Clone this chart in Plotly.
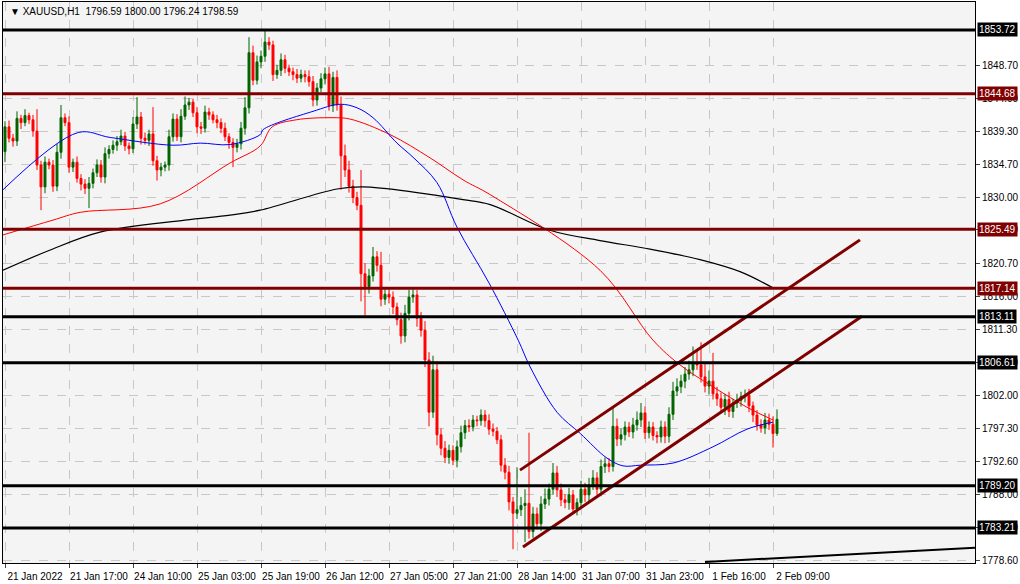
import plotly.graph_objects as go

first_open = 1836.5
closes = [1840.0,1838.4,1838.0,1841.2,1840.6,1841.6,1841.0,1839.4,1834.6,1831.5,
1835.0,1834.6,1831.6,1836.4,1841.3,1840.6,1834.3,1835.0,1832.7,1831.9,
1831.3,1832.0,1833.5,1834.6,1832.9,1836.2,1836.8,1837.4,1837.9,1838.7,
1837.3,1836.9,1840.4,1841.4,1838.4,1838.1,1839.0,1835.2,1833.9,1834.3,
1834.6,1838.6,1841.1,1838.6,1841.5,1843.1,1843.5,1842.0,1840.0,1839.8,
1842.1,1841.7,1841.0,1840.6,1839.8,1838.6,1837.8,1837.1,1837.6,1839.8,
1842.7,1850.5,1846.6,1849.2,1850.0,1852.0,1851.6,1847.4,1848.0,1849.5,
1848.3,1847.8,1847.4,1846.9,1847.4,1847.1,1846.4,1843.8,1845.5,1846.8,
1847.5,1843.0,1847.0,1843.1,1835.9,1833.9,1831.6,1830.0,1828.9,1819.2,
1817.4,1818.9,1821.6,1820.4,1815.6,1816.3,1815.9,1814.5,1812.7,1810.4,
1813.6,1815.9,1816.2,1812.9,1811.2,1807.0,1799.6,1805.6,1796.4,1794.5,
1793.2,1794.2,1792.8,1794.7,1796.7,1797.7,1797.5,1798.5,1798.4,1799.2,
1798.4,1797.2,1796.9,1795.7,1792.1,1791.1,1786.9,1785.3,1785.8,1786.4,
1786.7,1782.7,1785.2,1783.8,1786.6,1787.3,1788.7,1791.0,1788.6,1787.2,
1786.8,1787.9,1785.9,1786.8,1788.7,1787.9,1789.3,1790.3,1788.7,1791.9,
1792.3,1791.9,1797.6,1795.8,1796.4,1797.5,1796.8,1797.8,1798.5,1799.5,
1796.7,1797.5,1796.3,1796.1,1797.5,1796.2,1799.3,1802.6,1803.2,1804.0,
1805.0,1805.6,1806.5,1806.3,1804.6,1803.3,1804.0,1802.2,1801.5,1800.3,
1801.4,1799.7,1800.9,1801.3,1801.8,1802.0,1800.5,1799.2,1797.8,1797.4,
1798.5,1797.9,1796.59,1798.59]
up_wick = [0.8,0.9,0.6,1.0,0.5,0.9,0.4,0.7,3.1,0.6,
0.8,0.5,0.7,1.2,1.8,0.6,0.9,0.5,0.8,0.6,
0.7,0.9,0.6,0.8,0.7,0.9,0.6,0.7,0.8,0.9,
0.6,0.5,1.0,2.8,0.7,0.8,0.6,3.8,0.7,0.6,
0.5,1.0,0.8,0.7,1.0,1.2,0.6,0.5,0.8,0.7,
0.9,0.6,0.5,0.7,0.6,0.8,0.5,0.6,0.7,0.9,
1.5,2.2,1.0,0.9,0.8,1.8,0.7,0.6,0.8,0.9,
0.7,0.5,0.6,0.8,0.7,0.6,0.9,0.8,0.7,0.8,
0.9,1.0,0.8,1.0,1.2,1.6,1.3,0.9,0.8,5.0,
1.5,1.0,1.4,0.8,1.9,0.9,0.7,0.8,0.6,1.0,
1.2,1.0,0.8,0.7,0.9,1.3,1.1,2.0,1.2,0.9,
1.0,0.8,0.7,0.9,1.0,0.8,0.9,0.7,0.6,0.8,
0.7,0.9,0.8,0.6,0.7,1.0,0.9,0.7,6.0,1.2,
2.0,10.0,1.0,0.9,1.1,1.5,0.8,1.4,1.0,0.9,
0.8,1.0,0.7,0.6,1.2,0.9,1.0,1.1,0.8,1.0,
0.9,0.8,2.6,1.1,0.9,0.8,0.7,1.0,1.2,1.4,
0.9,0.8,0.7,0.6,0.9,0.8,1.0,1.3,1.2,0.9,
1.0,1.3,2.4,1.8,3.2,2.0,1.5,4.0,1.0,0.9,
0.8,1.1,0.6,0.9,0.7,0.8,0.9,0.6,0.7,0.8,
1.0,0.9,1.1,1.41]
down_wick = [1.5,0.6,0.8,0.7,0.9,0.5,0.6,0.8,0.7,3.3,
0.9,0.6,0.8,0.7,0.9,0.5,0.8,0.7,0.6,0.9,
0.8,2.8,0.7,0.6,0.8,0.9,0.7,0.6,0.8,0.5,
0.7,0.8,0.6,0.7,0.9,0.6,0.8,0.7,1.5,0.9,
0.6,0.8,0.7,0.6,0.8,0.5,0.7,0.6,0.9,0.8,
0.6,0.7,0.5,0.8,0.7,0.6,0.9,2.8,0.7,0.8,
0.9,0.8,0.7,0.6,0.9,0.8,0.7,0.9,0.6,0.8,
0.7,0.6,0.8,0.7,0.6,0.8,0.7,0.9,0.8,0.6,
0.8,0.7,0.9,0.8,4.8,1.0,0.9,0.8,0.7,3.9,
4.1,1.0,0.8,0.9,1.0,0.8,0.9,1.0,0.8,1.1,
0.9,1.0,0.8,1.2,0.9,1.0,2.0,0.8,1.5,1.0,
0.8,0.9,0.7,1.0,0.8,0.9,0.7,0.6,0.8,0.7,
0.9,0.8,0.7,0.6,0.9,1.0,1.2,5.1,0.8,0.9,
5.2,1.0,0.9,0.8,1.0,0.7,0.9,0.8,1.0,0.9,
0.8,1.0,0.7,0.9,0.8,1.0,0.9,0.7,0.8,1.0,
0.9,0.8,0.7,1.0,0.9,0.8,0.7,0.9,0.8,1.0,
0.9,0.8,0.7,0.9,0.8,1.0,0.9,0.8,0.7,0.9,
1.0,0.8,0.9,0.7,0.8,0.9,1.2,0.8,1.0,0.9,
1.1,0.8,0.9,0.7,0.9,0.8,0.9,1.0,0.8,0.7,
0.9,0.8,2.0,0.35]

ma_blue_x = [-0.5,18.3,26.3,42,48.8,56.3,63.8,64.5,77,83.8,88,92,98,102,108,113,121,128.3,131.3,138,143.8,150.5,154.5,158.8,167,177,185.5,192]
ma_blue_y = [1831.1,1839.2,1838.5,1837.4,1837.7,1837.5,1838.9,1839.6,1842.2,1843.2,1842.7,1841.3,1837.7,1835.7,1832.1,1825.8,1817.9,1809.8,1806.0,1799.6,1796.6,1793.1,1792.0,1792.1,1792.4,1794.7,1797.2,1798.2]
ma_red_x = [-0.5,12,18.8,38.8,56.3,63.8,66.8,72.8,82,86.3,96.3,106.3,114.5,121.3,148.75,162,168.75,177,185.5,192]
ma_red_y = [1824.7,1826.8,1827.9,1829.1,1834.9,1837.3,1840.0,1841.0,1841.3,1841.1,1838.9,1835.6,1832.5,1830.4,1819.7,1809.8,1806.3,1803.2,1800.3,1798.5]
ma_black_x = [-0.5,11,23.75,45,56.3,63.75,83,89.5,103,114.5,121.3,136,148.75,161.25,173.75,183.75,192]
ma_black_y = [1819.7,1822.5,1825.1,1826.8,1827.5,1828.2,1831.2,1831.5,1830.7,1829.7,1829.0,1825.4,1823.9,1822.7,1821.2,1819.5,1817.2]

channel_up_x = [128.75, 213.75]; channel_up_y = [1791.4, 1824.0]
channel_lo_x = [129.5, 214.25]; channel_lo_y = [1780.5, 1813.2]
bottom_x = [175, 242.5]; bottom_y = [1778.4, 1780.4]

black_levels = [1853.72, 1813.11, 1806.61, 1789.20, 1783.21]
red_levels = [1844.68, 1825.49, 1817.14]

tick_idx = [0,16,32,48,64,80,96,112,128,144,160,176,192]
tick_text = ["21 Jan 2022","21 Jan 17:00","24 Jan 10:00","25 Jan 03:00","25 Jan 19:00","26 Jan 12:00",
             "27 Jan 05:00","27 Jan 21:00","28 Jan 14:00","31 Jan 07:00","31 Jan 23:00","1 Feb 16:00","2 Feb 09:00"]
y_ticks = [1848.70,1844.00,1839.30,1834.70,1830.00,1825.40,1820.70,1816.00,1811.30,1806.60,1802.00,1797.30,1792.60,1788.00,1783.30,1778.60]

opens = [first_open] + closes[:-1]
opens[-1] = 1796.59
idx = list(range(len(closes)))
highs = [max(o, c) + u for o, c, u in zip(opens, closes, up_wick)]
lows = [min(o, c) - d for o, c, d in zip(opens, closes, down_wick)]

FONT = "Liberation Sans"
fig = go.Figure()
fig.add_trace(go.Candlestick(x=idx, open=opens, high=highs, low=lows, close=closes,
    increasing=dict(line=dict(color="#006400", width=1), fillcolor="#006400"),
    decreasing=dict(line=dict(color="#ff0000", width=1), fillcolor="#ff0000"),
    whiskerwidth=0, showlegend=False, hoverinfo="skip"))
fig.add_trace(go.Scatter(x=ma_black_x, y=ma_black_y, mode="lines", line=dict(color="black", width=1.2, shape="spline"), showlegend=False))
fig.add_trace(go.Scatter(x=ma_red_x, y=ma_red_y, mode="lines", line=dict(color="#ff0000", width=1, shape="spline"), showlegend=False))
fig.add_trace(go.Scatter(x=ma_blue_x, y=ma_blue_y, mode="lines", line=dict(color="#0000ff", width=1, shape="spline"), showlegend=False))
for xs, ys in [(channel_up_x, channel_up_y), (channel_lo_x, channel_lo_y)]:
    fig.add_trace(go.Scatter(x=xs, y=ys, mode="lines", line=dict(color="#800000", width=3), showlegend=False))
fig.add_trace(go.Scatter(x=bottom_x, y=bottom_y, mode="lines", line=dict(color="black", width=2), showlegend=False))

shapes = []
annots = []
for lv, col in [(v, "black") for v in black_levels] + [(v, "#800000") for v in red_levels]:
    shapes.append(dict(type="line", xref="paper", x0=0, x1=1, yref="y", y0=lv, y1=lv, line=dict(color=col, width=3)))
    annots.append(dict(xref="paper", x=1.002, y=lv, yref="y", text=f"{lv:.2f}", showarrow=False, xanchor="left",
                       bgcolor=col, font=dict(color="white", size=10, family=FONT), borderpad=1))
annots.append(dict(xref="paper", yref="paper", x=0.005, y=0.997, xanchor="left", yanchor="top", showarrow=False,
                   text="▼ XAUUSD,H1  1796.59 1800.00 1796.24 1798.59", font=dict(size=10, color="black", family=FONT)))

fig.update_layout(
    width=1020, height=584, paper_bgcolor="white", plot_bgcolor="#f4f4f4",
    margin=dict(l=3, r=45, t=2, b=21, autoexpand=False), shapes=shapes, annotations=annots,
    font=dict(family=FONT, size=10, color="black"),
    xaxis=dict(range=[-0.5, 242.5], tickvals=tick_idx, ticktext=tick_text, rangeslider=dict(visible=False),
               showgrid=True, gridcolor="#c8c8c8", griddash="dash", gridwidth=1, ticks="outside", ticklen=4,
               tickangle=0, automargin=False, ticklabelshift=30,
               showline=True, linecolor="black", mirror=True, zeroline=False, tickfont=dict(size=10)),
    yaxis=dict(range=[1778.25, 1857.68], side="right", tickvals=y_ticks, ticktext=[f"{v:.2f}" for v in y_ticks],
               showgrid=True, gridcolor="#c8c8c8", griddash="dash", gridwidth=1, ticks="outside", ticklen=4,
               automargin=False,
               showline=True, linecolor="black", mirror=True, zeroline=False, tickfont=dict(size=10)),
)
fig.write_html("out.html", config={"displayModeBar": False})
with open("out.html", encoding="utf-8") as f:
    html = f.read()
html = html.replace("<head>", "<head><style>html,body{margin:0;padding:0;overflow:hidden;}</style>", 1)
with open("out.html", "w", encoding="utf-8") as f:
    f.write(html)
